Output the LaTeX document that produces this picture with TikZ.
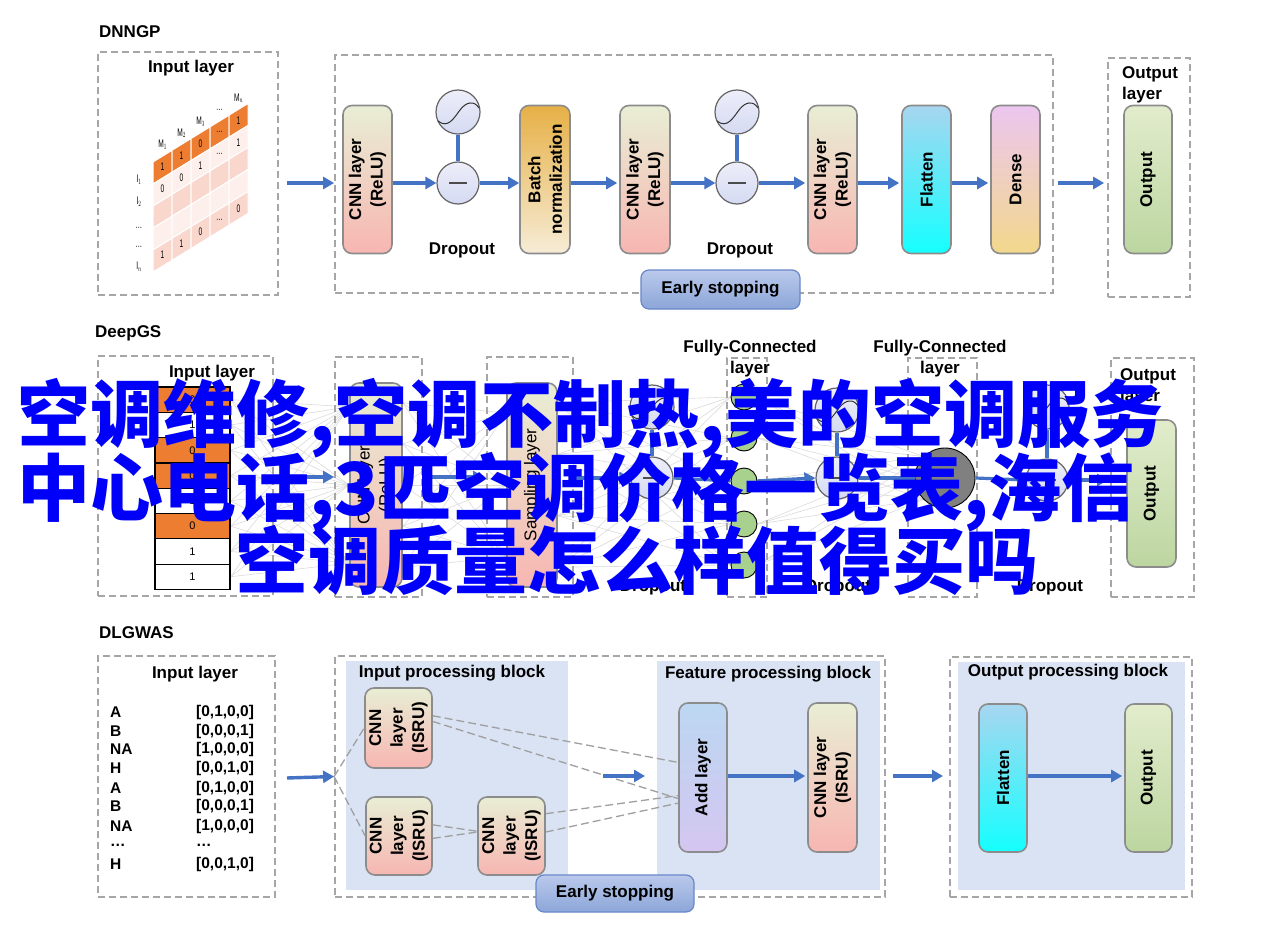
\documentclass[tikz,border=0pt]{standalone}
\usepackage{fontspec}
\setmainfont{Liberation Sans}
\newfontfamily\cjk{Noto Sans CJK SC}
\usetikzlibrary{arrows.meta,calc,backgrounds}
\definecolor{arrowblue}{RGB}{68,114,196}
\definecolor{dgray}{RGB}{166,166,166}
\definecolor{bgray}{RGB}{140,140,140}
\definecolor{blockbg}{RGB}{218,227,243}
\definecolor{orng}{RGB}{237,125,49}
\definecolor{pinkA}{RGB}{253,240,236}
\definecolor{pinkB}{RGB}{249,215,205}
\definecolor{cnnT}{RGB}{232,238,212}
\definecolor{cnnB}{RGB}{247,182,178}
\definecolor{bnT}{RGB}{230,176,70}
\definecolor{bnB}{RGB}{246,236,214}
\definecolor{flT}{RGB}{168,214,240}
\definecolor{flB}{RGB}{20,255,255}
\definecolor{deT}{RGB}{236,198,240}
\definecolor{deB}{RGB}{242,216,140}
\definecolor{outT}{RGB}{226,236,204}
\definecolor{outB}{RGB}{188,214,160}
\definecolor{addT}{RGB}{188,215,242}
\definecolor{addB}{RGB}{212,198,240}
\definecolor{esT}{RGB}{186,201,236}
\definecolor{esB}{RGB}{140,166,216}
\definecolor{esD}{RGB}{105,135,200}
\definecolor{lavT}{RGB}{238,238,250}
\definecolor{lavB}{RGB}{212,218,242}
\definecolor{grn}{RGB}{169,209,142}
\definecolor{circd}{RGB}{100,100,100}
\definecolor{wmblue}{RGB}{0,0,250}
\newcommand\sigm[1]{\draw[line width=1pt, black!80] ([shift={(-20,9)}]#1.center) .. controls ([shift={(-10,17)}]#1.center) and ([shift={(-4,6)}]#1.center) .. ([shift={(2,-2)}]#1.center) .. controls ([shift={(8,-10)}]#1.center) and ([shift={(16,-12)}]#1.center) .. ([shift={(21,-4)}]#1.center);}
\newcommand\minusln[1]{\draw[line width=1.4pt, black!70] ([shift={(-9,0)}]#1.center) -- ([shift={(9,0)}]#1.center);}
\tikzset{
  dbox/.style={draw=dgray, line width=1.8pt, dash pattern=on 7pt off 4pt, inner sep=0, rectangle},
  lbox/.style={draw=bgray, line width=1.6pt, rounded corners=9pt, inner sep=0, minimum width=49pt, minimum height=148pt},
  cnnf/.style={top color=cnnT, bottom color=cnnB},
  arr/.style={draw=arrowblue, line width=3.4pt, -{Triangle[length=11pt,width=12pt]}},
  bline/.style={draw=arrowblue, line width=3.2pt},
  lab/.style={font=\fontsize{17}{21}\selectfont\bfseries, inner sep=0, align=center},
  rlab/.style={rotate=90, font=\fontsize{17}{21.5}\selectfont\bfseries, align=center, inner sep=0},
  rlabn/.style={rotate=90, font=\fontsize{17}{21.5}\selectfont, align=center, inner sep=0},
  circ/.style={circle, draw=circd, line width=1.2pt, top color=lavT, bottom color=lavB, minimum size=#1, inner sep=0},
  gcirc/.style={circle, draw=black, line width=0.9pt, fill=grn, minimum size=26pt, inner sep=0},
  esbox/.style={draw=esD, line width=1.2pt, rounded corners=8pt, top color=esT, bottom color=esB, inner sep=0, font=\fontsize{17}{21}\selectfont\bfseries},
  cellst/.style={draw=black, line width=1.2pt, minimum width=75pt, minimum height=25.3pt, inner sep=0, font=\fontsize{11}{12}\selectfont},
  mesh/.style={draw=gray!28, line width=0.6pt},
  conn/.style={draw=gray!75, line width=1.3pt, dash pattern=on 8pt off 4pt},
  tiny/.style={inner sep=0, font=\fontsize{11}{12}\selectfont},
  rowt/.style={inner sep=0, anchor=west, font=\fontsize{15.5}{18}\selectfont\bfseries},
}
\begin{document}
\begin{tikzpicture}[x=1pt,y=-1pt]
\useasboundingbox (0,0) rectangle (1269,952);
\begin{scope}[on background layer]
\fill[white] (0,0) rectangle (1269,952);
\end{scope}

% ================= DNNGP =================
\node[lab, anchor=west] (t1) at (99,32) {DNNGP};
\node[dbox, minimum width=180pt, minimum height=243pt] (in1) at (188,173.5) {};
\node[lab] (in1t) at (191,68) {Input layer};
% sheared matrix
\foreach \c in {0,...,4}{
  \foreach \r/\col in {0/orng,1/pinkA,2/pinkB,3/pinkA,4/pinkB}{
    \pgfmathsetmacro{\xa}{153+19*\c}
    \pgfmathsetmacro{\ya}{162-11.7*\c+22*\r}
    \filldraw[fill=\col, draw=white, line width=1pt] (\xa,\ya) -- ++(19,-11.7) -- ++(0,22) -- ++(-19,11.7) -- cycle;
  }
}
\foreach \c/\r/\t in {0/0/1,1/0/1,2/0/0,3/0/\ldots,4/0/1,0/1/0,1/1/0,2/1/1,3/1/\ldots,4/1/1,0/4/1,1/4/1,2/4/0,3/4/\ldots,4/4/0}{
  \node[tiny] at (162.5+19*\c, 167.15-11.7*\c+22*\r) {\scalebox{0.6}[1]{\t}};
}
\foreach \c/\t in {0/M$_1$,1/M$_2$,2/M$_3$,3/\ldots,4/M$_n$}{
  \node[tiny] at (162.5+19*\c, 145-11.7*\c) {\scalebox{0.6}[1]{\t}};
}
\foreach \y/\t in {180/I$_1$,202/I$_2$,228/\ldots,247/\ldots,267/I$_n$}{
  \node[tiny] at (139,\y) {\scalebox{0.6}[1]{\t}};
}

\node[dbox, minimum width=718pt, minimum height=238pt] (main1) at (694,174) {};
\node[dbox, minimum width=82pt, minimum height=239pt] (outb1) at (1149,177.5) {};
\node[lab, align=left, anchor=north west, font=\fontsize{17}{21}\selectfont\bfseries] (outb1t) at (1122,66) {Output\\layer};

\node[lbox, cnnf] (cnn1) at (367.5,179.5) {};
\node[rlab] at (cnn1) {CNN layer\\(ReLU)};
\node[circ=44pt] (d1t) at (458,112) {};
\node[circ=42pt] (d1b) at (458,183) {};
\sigm{d1t}\minusln{d1b}
\draw[bline] (d1t) -- (d1b);
\node[lab] (d1l) at (462,250) {Dropout};
\node[lbox, minimum width=50pt, top color=bnT, bottom color=bnB] (bn) at (545,179.5) {};
\node[rlab] at (bn) {Batch\\normalization};
\node[lbox, cnnf, minimum width=50pt] (cnn2) at (645,179.5) {};
\node[rlab] at (cnn2) {CNN layer\\(ReLU)};
\node[circ=44pt] (d2t) at (737,112) {};
\node[circ=42pt] (d2b) at (737,183) {};
\sigm{d2t}\minusln{d2b}
\draw[bline] (d2t) -- (d2b);
\node[lab] (d2l) at (740,250) {Dropout};
\node[lbox, cnnf] (cnn3) at (832.5,179.5) {};
\node[rlab] at (cnn3) {CNN layer\\(ReLU)};
\node[lbox, top color=flT, bottom color=flB] (fl1) at (926.5,179.5) {};
\node[rlab] at (fl1) {Flatten};
\node[lbox, top color=deT, bottom color=deB] (de1) at (1015.5,179.5) {};
\node[rlab] at (de1) {Dense};
\node[lbox, top color=outT, bottom color=outB, minimum width=48pt] (out1) at (1148,179.5) {};
\node[rlab] at (out1) {Output};
\node[esbox, minimum width=159pt, minimum height=39pt] (es1) at (720.5,289.5) {Early stopping};

\coordinate (a1s) at (287,183);
\draw[arr] (a1s) -- (a1s -| main1.west);
\draw[arr] (cnn1.east |- d1b.west) -- (d1b.west);
\draw[arr] (d1b.east) -- (d1b.east -| bn.west);
\draw[arr] (bn.east |- d1b) -- ([xshift=-2pt]cnn2.west |- d1b);
\draw[arr] (cnn2.east |- d2b.west) -- (d2b.west);
\draw[arr] (d2b.east) -- ([xshift=-2pt]d2b.east -| cnn3.west);
\draw[arr] (cnn3.east |- d2b) -- ([xshift=-2pt]fl1.west |- d2b);
\draw[arr] (fl1.east |- d2b) -- ([xshift=-2pt]de1.west |- d2b);
\draw[arr] ([xshift=4pt]main1.east |- d2b) -- ([xshift=-3pt]outb1.west |- d2b);

% ================= DeepGS =================
\node[lab, anchor=west] (t2) at (95,333) {DeepGS};
\node[dbox, minimum width=175pt, minimum height=240pt] (in2) at (185.5,476) {};
\node[lab] (in2t) at (212,373) {Input layer};
\foreach \i/\col/\t in {0/orng/0,1/white/1,2/orng/0,3/orng/0,4/white/1,5/orng/0,6/white/1,7/white/1}{
  \node[cellst, fill=\col] (cell\i) at (192.5, 399.65+25.3*\i) {\t};
}
\node[dbox, minimum width=87pt, minimum height=240pt] (cnnb2) at (378.5,477) {};
\node[lbox, cnnf, minimum width=52pt, minimum height=204pt] (cnnin2) at (376,485) {};
\node[rlabn] at (cnnin2) {CNN layer\\(ReLU)};
\node[dbox, minimum width=86pt, minimum height=240pt] (samb) at (530,477) {};
\node[lbox, cnnf, minimum width=50pt, minimum height=204pt] (samin) at (532,485) {};
\node[rlabn] at (samin) {Sampling layer};
\node[dbox, minimum width=40pt, minimum height=239pt] (fc1) at (747,477.5) {};
\node[dbox, minimum width=69pt, minimum height=239pt] (fc2) at (942.5,477.5) {};
\node[dbox, minimum width=83pt, minimum height=239pt] (outb2) at (1152.5,477.5) {};
\node[lab] (fc1t) at (750,359) {Fully-Connected\\layer};
\node[lab] (fc2t) at (940,359) {Fully-Connected\\layer};
\node[lab, align=left, anchor=north west] (outb2t) at (1120,368) {Output\\layer};
\node[lbox, top color=outT, bottom color=outB, minimum height=147pt] (out2) at (1151.5,493.5) {};
\node[rlab] at (out2) {Output};

\foreach \k/\y in {1/397,2/438,3/481,4/524,5/565}{
  \node[gcirc] (g\k) at (744,\y) {};
}
\node[circle, draw=black, line width=0.9pt, fill=gray, minimum size=60pt, inner sep=0] (gc) at (945,478) {};

\begin{scope}[on background layer]
\foreach \i in {0,...,7}{
  \foreach \f in {0.12,0.5,0.88}{
    \draw[mesh] (cell\i.east) -- ($(cnnin2.north west)!\f!(cnnin2.south west)$);
  }
}
\foreach \f in {0.1,0.3,0.5,0.7,0.9}{
  \foreach \g in {0.15,0.5,0.85}{
    \draw[mesh] ($(cnnin2.north east)!\f!(cnnin2.south east)$) -- ($(samin.north west)!\g!(samin.south west)$);
  }
}
\foreach \f in {0.1,0.35,0.65,0.9}{
  \foreach \k in {1,...,5}{
    \draw[mesh] ($(samin.north east)!\f!(samin.south east)$) -- (g\k.west);
  }
}
\foreach \k in {1,...,5}{
  \draw[mesh] (g\k.east) -- (gc.west);
  \draw[mesh] (g\k.east) -- (gc.north west);
  \draw[mesh] (g\k.east) -- (gc.south west);
}
\end{scope}

\node[circ=44pt] (d3t) at (652,407) {};
\node[circ=42pt] (d3b) at (652,478) {};
\sigm{d3t}\minusln{d3b}
\draw[bline] (d3t) -- (d3b);
\node[circ=44pt] (d4t) at (837,410) {};
\node[circ=42pt] (d4b) at (837,478) {};
\sigm{d4t}\minusln{d4b}
\draw[bline] (d4t) -- (d4b);
\node[circ=44pt] (d5t) at (1047,407) {};
\node[circ=42pt] (d5b) at (1047,480) {};
\sigm{d5t}\minusln{d5b}
\draw[bline] (d5t) -- (d5b);
\node[lab] (d3l) at (653,587) {Dropout};
\node[lab] (d4l) at (838,587) {Dropout};
\node[lab] (d5l) at (1050,587) {Dropout};

\coordinate (a2s) at (298,477);
\draw[arr] (a2s) -- (a2s -| cnnb2.west);
\draw[arr] (cnnb2.east |- a2s) -- ([xshift=-2pt]samb.west |- a2s);
\draw[arr] (samb.east |- d3b) -- (d3b.west);
\draw[bline] (d3b.east) -- (g3.west);
\draw[arr] (g3.east) -- (d4b.west);
\draw[bline] (d4b.east) -- (gc.west);
\draw[bline] (gc.east) -- (d5b.west);
\draw[arr] (d5b.east) -- ([xshift=-2pt]outb2.west |- d5b);

% ================= DLGWAS =================
\node[lab, anchor=west] (t3) at (99,633) {DLGWAS};
\node[dbox, minimum width=177pt, minimum height=241pt] (in3) at (186.5,776.5) {};
\node[lab] (in3t) at (195,674) {Input layer};
\foreach \y/\a/\v in {712/A/{[0,1,0,0]},731/B/{[0,0,0,1]},749/NA/{[1,0,0,0]},768/H/{[0,0,1,0]},788/A/{[0,1,0,0]},806/B/{[0,0,0,1]},826/NA/{[1,0,0,0]},845/\ldots/\ldots,864/H/{[0,0,1,0]}}{
  \node[rowt] at (110,\y) {\a};
  \node[rowt] at (196,\y) {\v};
}
\node[dbox, minimum width=550pt, minimum height=241pt] (main3) at (610,776.5) {};
\node[fill=blockbg, inner sep=0, minimum width=222pt, minimum height=229pt] (ipb) at (457,775.5) {};
\node[fill=blockbg, inner sep=0, minimum width=223pt, minimum height=229pt] (fpb) at (768.5,775.5) {};
\node[lab] (ipbt) at (452,673) {Input processing block};
\node[lab] (fpbt) at (768,674) {Feature processing block};
\node[lbox, cnnf, minimum width=67pt, minimum height=80pt] (ca) at (398.5,728) {};
\node[rlab] at (ca) {CNN\\layer\\(ISRU)};
\node[lbox, cnnf, minimum width=66pt, minimum height=78pt] (cb) at (399,836) {};
\node[rlab] at (cb) {CNN\\layer\\(ISRU)};
\node[lbox, cnnf, minimum width=67pt, minimum height=78pt] (cc) at (511.5,836) {};
\node[rlab] at (cc) {CNN\\layer\\(ISRU)};
\node[lbox, top color=addT, bottom color=addB, minimum width=48pt, minimum height=149pt] (add) at (703,777.5) {};
\node[rlab] at (add) {Add layer};
\node[lbox, cnnf, minimum height=149pt] (cnn4) at (832.5,777.5) {};
\node[rlab] at (cnn4) {CNN layer\\(ISRU)};

\draw[conn] (main3.west) -- (ca.west);
\draw[conn] (main3.west) -- (cb.west);
\draw[conn] ($(ca.north east)!0.35!(ca.south east)$) -- ($(add.north west)!0.40!(add.south west)$);
\draw[conn] ($(ca.north east)!0.42!(ca.south east)$) -- ($(add.north west)!0.64!(add.south west)$);
\draw[conn] ($(cc.north east)!0.22!(cc.south east)$) -- ($(add.north west)!0.62!(add.south west)$);
\draw[conn] ($(cc.north east)!0.45!(cc.south east)$) -- ($(add.north west)!0.67!(add.south west)$);
\draw[conn] ($(cb.north east)!0.36!(cb.south east)$) -- ($(cc.north west)!0.44!(cc.south west)$);
\draw[conn] ($(cb.north east)!0.53!(cb.south east)$) -- ($(cc.north west)!0.45!(cc.south west)$);

\node[esbox, minimum width=158pt, minimum height=37pt] (es2) at (615,893.5) {Early stopping};

\node[dbox, minimum width=242pt, minimum height=240pt] (opb) at (1071,777) {};
\node[fill=blockbg, inner sep=0, minimum width=227pt, minimum height=228pt] (opbin) at (1071.5,776) {};
\node[lab] (opbt) at (1068,672) {Output processing block};
\node[lbox, top color=flT, bottom color=flB, minimum width=48pt] (fl2) at (1003,778) {};
\node[rlab] at (fl2) {Flatten};
\node[lbox, top color=outT, bottom color=outB, minimum width=47pt] (out3) at (1148.5,778) {};
\node[rlab] at (out3) {Output};

\coordinate (a3s) at (287,778);
\draw[arr] (a3s) -- (main3.west);
\coordinate (m1s) at (603,776);
\coordinate (m1e) at (645,776);
\draw[arr] (m1s) -- (m1e);
\draw[arr] (add.east |- m1s) -- ([xshift=-2pt]cnn4.west |- m1s);
\coordinate (m2s) at (893,776);
\coordinate (m2e) at (943,776);
\draw[arr] (m2s) -- (m2e);
\draw[arr] (fl2.east |- m1s) -- ([xshift=-2pt]out3.west |- m1s);

% ================= overlay text =================
\node[anchor=base west, inner sep=0, text=wmblue, font=\cjk\bfseries\fontsize{73}{73}\selectfont] (wm1) at (17,441) {空调维修,空调不制热,美的空调服务};
\node[anchor=base west, inner sep=0, text=wmblue, font=\cjk\bfseries\fontsize{73}{73}\selectfont] (wm2) at (17,515) {中心电话,3匹空调价格一览表,海信};
\node[anchor=base west, inner sep=0, text=wmblue, font=\cjk\bfseries\fontsize{73}{73}\selectfont] (wm3) at (235,588) {空调质量怎么样值得买吗};
\end{tikzpicture}
\end{document}
